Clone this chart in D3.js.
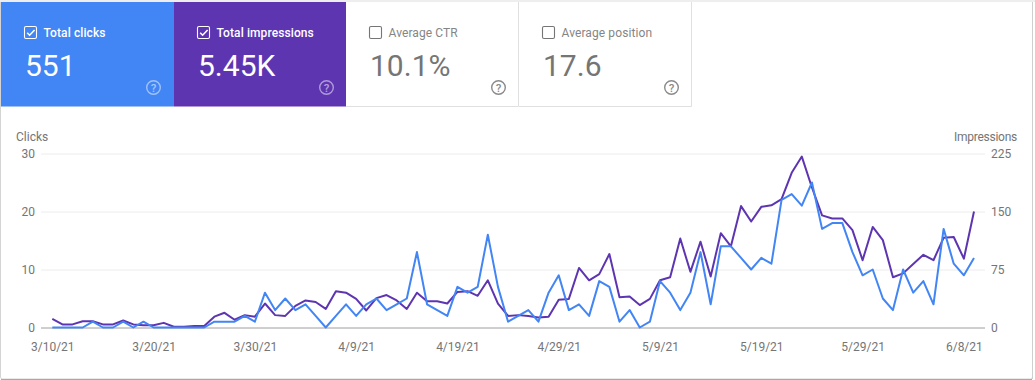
<!DOCTYPE html>
<html>
<head>
<meta charset="utf-8">
<script src="https://cdn.jsdelivr.net/npm/d3@7"></script>
<style>
html,body{margin:0;padding:0;background:#fff;overflow:hidden}
svg{display:block;font-family:Roboto,sans-serif}
</style>
</head>
<body>
<svg id="c" width="1035" height="380"></svg>
<script>
const startDate = "2021-03-10";
const clicks = [0,0,0,0,1,0,0,1,0,1,0,0,0,0,0,0,1,1,1,2,1,
  6,3,5,3,4,2,0,2,4,2,
  4,5,3,4,5,13,4,3,2,7,
  6,7,16,7,1,2,3,1,6,9,
  3,4,2,8,7,1,3,0,1,8,
  6,3,6,13,4,14,14,12,10,12,
  11,22,23,21,25,17,18,18,13,9,
  10,5,3,10,6,8,4,17,11,9,12];
const impressions = [11,4,4,8,8,4,4,9,4,3,3,6,1,1,2,2,14,19,10,16,14,
  31,16,15,28,35,33,24,47,45,37,
  22,38,42,35,24,45,34,34,31,46,
  47,41,61,31,15,16,15,13,14,36,
  37,77,61,69,95,39,40,29,37,61,
  65,115,72,111,66,122,105,157,137,156,
  158,166,200,221,181,145,141,141,126,87,
  130,113,65,70,82,94,87,116,117,89,150];
const clickTicks = [0,10,20,30];
const impressionTicks = [0,75,150,225];
const dateTicks = ["3/10/21","3/20/21","3/30/21","4/9/21","4/19/21","4/29/21","5/9/21","5/19/21","5/29/21","6/8/21"];
const cardTitles = ["Total clicks","Total impressions","Average CTR","Average position"];
const cardValues = ["551","5.45K","10.1%","17.6"];
const cardChecked = [true,true,false,false];
const cardFills = ["#4285f4","#5e35b1","#fff","#fff"];

const svg = d3.select("#c");
const BLUE="#4285f4", PURPLE="#5e35b1", GREY="#757575";

// outer card
svg.append("rect").attr("x",0.5).attr("y",-4).attr("width",1032).attr("height",383).attr("rx",2)
  .attr("fill","#fff").attr("stroke","#d4d4d4");
svg.append("rect").attr("x",1).attr("y",379).attr("width",1031).attr("height",1).attr("fill","#a8a8a8");
svg.append("rect").attr("x",1032).attr("y",0).attr("width",1).attr("height",379).attr("fill","#cfcfcf");
svg.append("rect").attr("x",0).attr("y",0).attr("width",1035).attr("height",2).attr("fill","#eeeeee");

// metric cards
const cardX = d3.scaleLinear().domain([0,4]).range([1,691.6]);
const cards = svg.selectAll("g.card").data(cardTitles).join("g").attr("class","card")
  .attr("transform",(d,i)=>`translate(${Math.round(cardX(i))},2)`);
cards.append("rect").attr("width",173).attr("height",104.5).attr("fill",(d,i)=>cardFills[i]);
cards.filter((d,i)=>!cardChecked[i]).append("path")
  .attr("d","M172.5,0V104.5H0").attr("fill","none").attr("stroke","#e0e0e0");
const fg = i => cardChecked[i] ? "#fff" : GREY;
cards.append("rect").attr("x",23.5).attr("y",24.5).attr("width",12).attr("height",12).attr("rx",1.5)
  .attr("fill","none").attr("stroke",(d,i)=>fg(i)).attr("stroke-width",1.1);
cards.filter((d,i)=>cardChecked[i]).append("path")
  .attr("d","M26.2,30.8l2.4,2.4l5-5.2").attr("fill","none").attr("stroke","#fff").attr("stroke-width",1.6);
cards.append("text").attr("x",42.5).attr("y",35).attr("font-size",12).attr("font-weight",(d,i)=>cardChecked[i]?500:400)
  .attr("fill",(d,i)=>cardChecked[i]?"#fff":"#858585").attr("letter-spacing",0.1).text(d=>d);
cards.append("text").attr("x",24).attr("y",74).attr("font-size",30).attr("font-weight",400)
  .attr("fill",(d,i)=>cardChecked[i]?"#fff":GREY).text((d,i)=>cardValues[i]);
cards.append("circle").attr("cx",152.5).attr("cy",85.5).attr("r",6.8).attr("fill","none")
  .attr("stroke",(d,i)=>cardChecked[i]?"rgba(255,255,255,.5)":"#8a8a8a").attr("stroke-width",1.4);
cards.append("text").attr("x",152.5).attr("y",89.7).attr("text-anchor","middle").attr("font-size",11.5).attr("font-weight",500)
  .attr("fill",(d,i)=>cardChecked[i]?"rgba(255,255,255,.55)":"#8a8a8a").text("?");

// chart
const parse = d3.utcParse("%Y-%m-%d");
const day = i => d3.utcDay.offset(parse(startDate), i);
const x = d3.scaleUtc().domain([day(0), day(clicks.length-1)]).range([52.3,974]);
const yL = d3.scaleLinear().domain([0,30]).range([327.5,153.5]);
const yR = d3.scaleLinear().domain([0,225]).range([327.5,153.5]);
const tickDates = dateTicks.map((d,i)=>day(i*10));

const grid = svg.append("g").attr("transform","translate(41,0)")
  .call(d3.axisLeft(yL).tickValues(clickTicks).tickSize(-944).tickPadding(6).tickFormat(d3.format("d")));
grid.select(".domain").remove();
grid.selectAll(".tick line").attr("stroke",d=>d===0?"#9e9e9e":"#ececec");
grid.selectAll("text").attr("font-size",12).attr("fill",GREY).attr("font-family","Roboto");

const right = svg.append("g").attr("transform","translate(985,0)")
  .call(d3.axisRight(yR).tickValues(impressionTicks).tickSize(0).tickPadding(6));
right.select(".domain").remove();
right.selectAll("text").attr("font-size",12).attr("fill",GREY).attr("font-family","Roboto");

const bottom = svg.append("g").attr("transform","translate(0,327.5)")
  .call(d3.axisBottom(x).tickValues(tickDates).tickSize(0).tickPadding(15).tickFormat((d,i)=>dateTicks[i]));
bottom.select(".domain").remove();
bottom.selectAll("text").attr("font-size",12).attr("fill",GREY).attr("font-family","Roboto");

svg.append("text").attr("x",16).attr("y",141).attr("font-size",12).attr("fill",GREY).text("Clicks");
svg.append("text").attr("x",1017).attr("y",141).attr("text-anchor","end").attr("font-size",12).attr("letter-spacing",-0.25).attr("fill",GREY).text("Impressions");

const line = (vals,y)=>d3.line().x((d,i)=>x(day(i))).y(d=>y(d))(vals);
svg.append("path").attr("d",line(impressions,yR)).attr("fill","none").attr("stroke",PURPLE).attr("stroke-width",2).attr("stroke-linejoin","round");
svg.append("path").attr("d",line(clicks,yL)).attr("fill","none").attr("stroke",BLUE).attr("stroke-width",2).attr("stroke-linejoin","round");
</script>
</body>
</html>
